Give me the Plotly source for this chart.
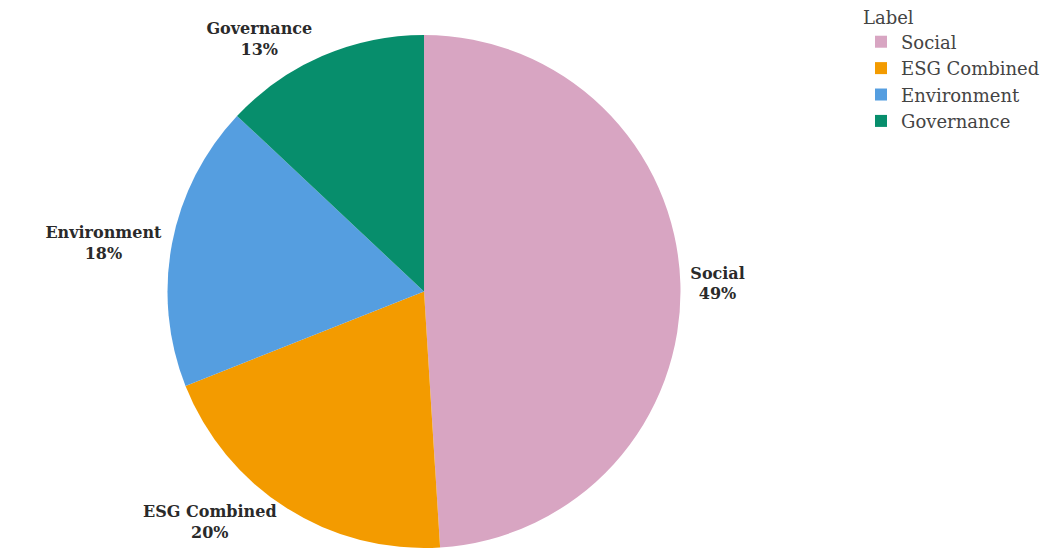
import plotly.graph_objects as go

labels = ["Social", "ESG Combined", "Environment", "Governance"]
values = [49, 20, 18, 13]
colors = ["#D8A5C2", "#F39B00", "#559EE0", "#078E6C"]

fig = go.Figure(go.Pie(
    labels=labels,
    values=values,
    marker=dict(colors=colors, line=dict(width=0)),
    textinfo="label+percent",
    textposition="outside",
    texttemplate="<b>%{label}</b><br><b>%{percent:.0%}</b>",
    sort=False,
    direction="clockwise",
    rotation=0,
    automargin=False,
    showlegend=True,
    domain=dict(x=[0, 848 / 1050], y=[0, 1]),
    outsidetextfont=dict(family="DejaVu Serif", size=16, color="#2a2a2a"),
))

fig.update_layout(
    width=1050, height=555,
    margin=dict(l=0, r=0, t=35, b=7, autoexpand=False),
    paper_bgcolor="white",
    plot_bgcolor="white",
    font=dict(family="DejaVu Serif", size=18, color="#444444"),
    legend=dict(
        title=dict(text="Label", font=dict(size=18)),
        x=0.82, y=1.068, xanchor="left", yanchor="top",
        font=dict(size=18),
    ),
)

fig.write_html("out.html")
